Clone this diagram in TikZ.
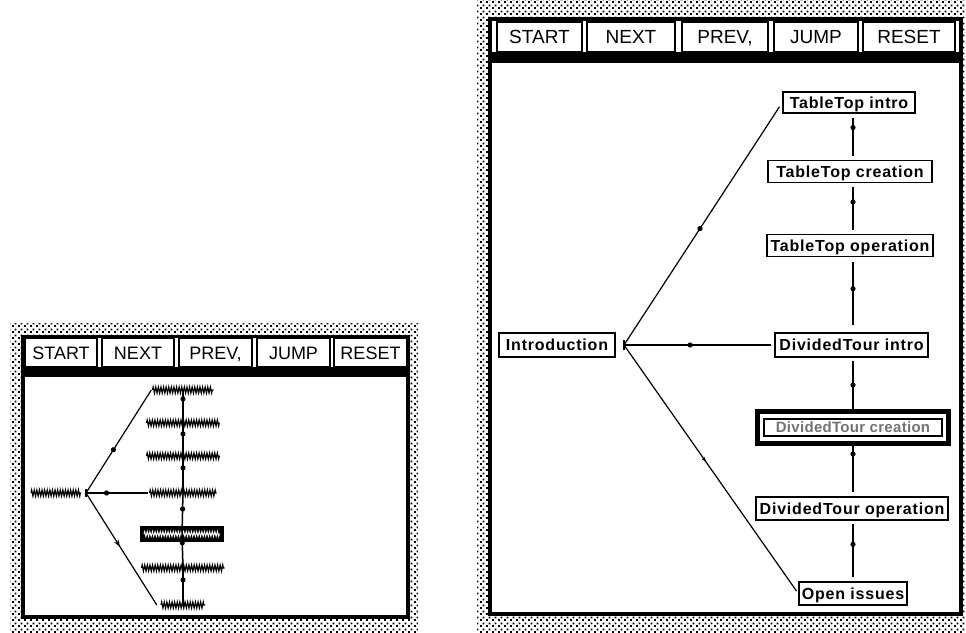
\documentclass[tikz,border=0pt]{standalone}
\usepackage{fontspec}
\setmainfont{Liberation Sans}
\usetikzlibrary{patterns,decorations.pathmorphing,decorations.markings,arrows.meta}
\pgfdeclarepatternformonly{macgray}{\pgfpointorigin}{\pgfqpoint{6pt}{6pt}}{\pgfqpoint{6pt}{6pt}}{%
  \pgfpathrectangle{\pgfpointorigin}{\pgfqpoint{2.2pt}{2.2pt}}%
  \pgfpathrectangle{\pgfqpoint{3pt}{3pt}}{\pgfqpoint{2.2pt}{2.2pt}}%
  \pgfusepath{fill}}
\tikzset{
  btnL/.style={draw, line width=1.2pt, fill=white, inner sep=0pt, minimum height=29pt,
    text height=13pt, text depth=0pt, font=\fontsize{18}{18}\selectfont},
  btnR/.style={draw, line width=1.2pt, fill=white, inner sep=0pt, minimum height=30pt,
    text height=13.5pt, text depth=0pt, font=\fontsize{19}{19}\selectfont},
  greek/.style={inner sep=0pt, minimum height=11pt,
    path picture={\draw[line width=1.1pt, decorate,
      decoration={zigzag, segment length=2.6pt, amplitude=3.2pt}]
      ([xshift=1pt]path picture bounding box.west) -- ([xshift=-1pt]path picture bounding box.east);}},
  greeksel/.style={inner sep=0pt, minimum height=14pt, draw, line width=2.5pt, fill=black,
    path picture={\draw[white, line width=0.9pt, decorate,
      decoration={zigzag, segment length=2.6pt, amplitude=2.5pt}]
      ([xshift=3pt]path picture bounding box.west) -- ([xshift=-3pt]path picture bounding box.east);}},
  lab/.style={draw, line width=1.5pt, fill=white, inner sep=0pt, minimum height=22pt,
    text height=11.5pt, text depth=0pt,
    font=\bfseries\fontsize{16}{16}\selectfont\addfontfeature{LetterSpace=5}},
  conn/.style={line width=1.5pt},
  diag/.style={line width=1.2pt},
  dotmark/.style={postaction={decorate, decoration={markings,
    mark=at position #1 with {\fill (0,0) circle (2.6pt);}}}},
  arrmark/.style={postaction={decorate, decoration={markings,
    mark=at position #1 with {\arrow{Stealth[length=7pt,width=5pt]}}}}},
  smallarr/.style={postaction={decorate, decoration={markings,
    mark=at position #1 with {\arrow{Stealth[length=5pt,width=4pt]}}}}},
}
\begin{document}
\begin{tikzpicture}[x=1pt,y=-1pt]
\useasboundingbox (0,0) rectangle (966,632);

% ---------------- left (small) window ----------------
\fill[pattern=macgray] (10,323) rectangle (418,632);
\fill[black] (21,335) rectangle (410,619);
\fill[white] (24,338) rectangle (407,367);
\fill[white] (25,377) rectangle (406,615);

\node[btnL, minimum width=72pt] (ls) at (61,352.5) {START};
\node[btnL, minimum width=72pt] (ln) at (138,352.5) {NEXT};
\node[btnL, minimum width=73pt] (lp) at (215.5,352.5) {PREV,};
\node[btnL, minimum width=73pt] (lj) at (293.5,352.5) {JUMP};
\node[btnL, minimum width=73pt] (lr) at (370.5,352.5) {RESET};

\node[greek, minimum width=52pt] (g0) at (56,493) {};
\node[greek, minimum width=63pt] (g1) at (183,390) {};
\node[greek, minimum width=75pt] (g2) at (183,423) {};
\node[greek, minimum width=75pt] (g3) at (183,456) {};
\node[greek, minimum width=69pt] (g4) at (183,493) {};
\node[greeksel, minimum width=82pt] (g5) at (182,534) {};
\node[greek, minimum width=85pt] (g6) at (183,568) {};
\node[greek, minimum width=46pt] (g7) at (183,605) {};
\coordinate (J1) at (86,493);

\draw[conn] (J1) ++(0,-4) -- ++(0,8);
\draw[diag, dotmark=0.42] (J1) -- (g1.west);
\draw[conn, dotmark=0.33] (J1) -- (g4.west);
\draw[diag, arrmark=0.48] (J1) -- ([xshift=-3pt]g7.west);
\draw[conn, dotmark=0.27] (g1.center) -- (g2.center);
\draw[conn, dotmark=0.33] (g2.center) -- (g3.center);
\draw[conn, dotmark=0.32] (g3.center) -- (g4.center);
\draw[conn, dotmark=0.39] (g4.center) -- (g5.center);
\draw[conn, dotmark=0.26] (g5.center) -- (g6.center);
\draw[conn, dotmark=0.32] (g6.center) -- (g7.center);

% ---------------- right (large) window ----------------
\fill[pattern=macgray] (477,0) rectangle (966,632);
\fill[black] (488,17) rectangle (963,616);
\fill[white] (492,21) rectangle (959,52);
\fill[white] (492,63) rectangle (959,612);

\node[btnR, minimum width=85pt] (rs) at (539.5,37) {START};
\node[btnR, minimum width=88pt] (rn) at (631,37) {NEXT};
\node[btnR, minimum width=86pt] (rp) at (725,37) {PREV,};
\node[btnR, minimum width=84pt] (rj) at (816,37) {JUMP};
\node[btnR, minimum width=92pt] (rr) at (909,37) {RESET};

\node[lab, minimum width=132pt, minimum height=21pt] (ti) at (849,102.5) {TableTop intro};
\node[lab, minimum width=164pt] (tc) at (850,171.5) {TableTop creation};
\node[lab, minimum width=166pt] (to) at (850,245.5) {TableTop operation};
\node[lab, minimum width=116pt, minimum height=24pt] (in) at (557,345) {Introduction};
\node[lab, minimum width=153pt, minimum height=24pt] (dti) at (851.5,345) {DividedTour intro};
\node[lab, minimum width=178pt, minimum height=17pt, text=black!55, text height=10.5pt,
  font=\bfseries\fontsize{15}{15}\selectfont\addfontfeature{LetterSpace=2}] (dtc) at (853,427.5) {DividedTour creation};
\draw[line width=5pt] ([xshift=-5.5pt,yshift=6.5pt]dtc.north west) rectangle ([xshift=5.5pt,yshift=-6.5pt]dtc.south east);
\node[lab, minimum width=192pt, minimum height=23pt] (dto) at (852,508.5) {DividedTour operation};
\node[lab, minimum width=108pt, minimum height=23pt] (oi) at (853,593.5) {Open issues};

\coordinate (sp) at (853,0);
\coordinate (J2) at (624,345);

\draw[conn] (J2) ++(0,-5) -- ++(0,10);
\draw[diag, dotmark=0.48, shorten >=5pt] (J2) -- (ti.west);
\draw[conn, dotmark=0.44, shorten >=3pt] (J2) -- (dti.west);
\draw[diag, smallarr=0.47, shorten >=3pt] (J2) -- (oi.west);

\draw[conn, line width=2pt, dotmark=0.3, shorten <=4pt, shorten >=4pt] (ti.south -| sp) -- (tc.north -| sp);
\draw[conn, line width=2pt, dotmark=0.37, shorten <=4pt, shorten >=4pt] (tc.south -| sp) -- (to.north -| sp);
\draw[conn, line width=2pt, dotmark=0.42, shorten <=5pt, shorten >=7pt] (to.south -| sp) -- (dti.north -| sp);
\draw[conn, line width=2pt, dotmark=0.45, shorten <=3pt, shorten >=9pt] (dti.south -| sp) -- (dtc.north -| sp);
\draw[conn, line width=2pt, dotmark=0.29, shorten <=9pt, shorten >=4pt] (dtc.south -| sp) -- (dto.north -| sp);
\draw[conn, line width=2pt, dotmark=0.39, shorten <=3pt, shorten >=4pt] (dto.south -| sp) -- (oi.north -| sp);
\end{tikzpicture}
\end{document}
